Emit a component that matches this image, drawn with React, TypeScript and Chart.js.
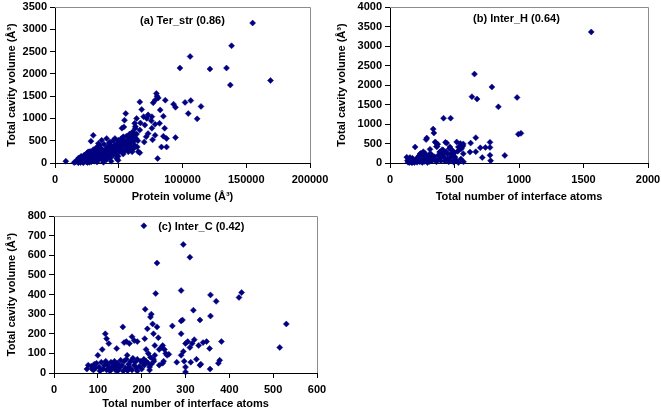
import React, { useEffect, useRef } from "react";
import { Chart, registerables } from "chart.js";

Chart.register(...registerables);

// ---------- Data ----------
const terStrPoints: [number, number][] = [
  [155000, 3140], [138500, 2630], [106000, 2390], [98000, 2130], [121500, 2110], [134500, 2130],
  [169000, 1850], [137500, 1750], [79500, 1560], [81000, 1460], [78500, 1410], [86500, 1410],
  [93000, 1320], [94500, 1250], [102000, 1360], [106500, 1400], [114500, 1270], [104500, 1110],
  [111500, 990], [94500, 570], [80500, 100], [66500, 1370], [68000, 1200], [55500, 1110],
  [54500, 960], [54000, 810], [64000, 1000], [69500, 1040], [73000, 1080], [76000, 1040],
  [82500, 1190], [85000, 1050], [82000, 890], [86000, 780], [78500, 870], [76000, 780],
  [70500, 850], [73000, 660], [66500, 740], [62500, 890], [61000, 680], [59500, 590],
  [57500, 510], [78500, 620], [76500, 520], [71500, 590], [70000, 470], [83500, 360],
  [87500, 360], [87500, 550], [85000, 600], [66500, 230], [64500, 360], [49500, 60],
  [61500, 320], [57500, 250], [30000, 620], [8500, 40], [15000, 10], [80000, 1500],
  [77000, 1350], [75500, 950], [72000, 1000], [67000, 900], [63000, 820], [52500, 780],
  [16000, 20], [17000, 60], [18000, 30], [18500, 110], [19000, 80], [20000, 10], [20500, 150],
  [21000, 50], [21500, 120], [22000, 20], [22500, 90], [23000, 180], [23500, 40], [24000, 140],
  [24500, 60], [25000, 220], [25500, 10], [26000, 110], [26500, 170], [27000, 60], [27500, 260],
  [28000, 130], [28500, 30], [29000, 200], [29500, 90], [30000, 300], [30500, 160], [31000, 40],
  [31500, 240], [32000, 120], [32500, 350], [33000, 200], [33500, 70], [34000, 280], [34500, 150],
  [35000, 400], [35500, 230], [36000, 100], [36500, 320], [37000, 180], [37500, 60], [38000, 260],
  [38500, 420], [39000, 140], [39500, 300], [40000, 220], [40500, 80], [41000, 360], [41500, 260],
  [42000, 170], [42500, 450], [43000, 300], [43500, 120], [44000, 380], [44500, 230], [45000, 320],
  [45500, 500], [46000, 180], [46500, 400], [47000, 280], [47500, 350], [48000, 200], [48500, 440],
  [49000, 320], [49500, 150], [50000, 400], [50500, 260], [51000, 480], [51500, 350], [52000, 550],
  [52500, 300], [53000, 420], [53500, 200], [54000, 380], [54500, 500], [55000, 280], [55500, 460],
  [56000, 600], [56500, 350], [57000, 420], [57500, 520], [58000, 300], [58500, 650], [59000, 450],
  [59500, 380], [60000, 560], [60500, 250], [61000, 700], [61500, 480], [62000, 600], [62500, 400],
  [63000, 780], [63500, 550], [64000, 650], [65000, 500], [28200, 490], [34000, 440], [36600, 510],
  [40500, 550], [43100, 470], [47000, 550], [49600, 510], [53600, 590], [26100, 250], [23500, 175],
  [41800, 175], [36600, 135], [31400, 75], [24800, 22], [22200, 5], [18300, 5], [19600, 100],
  [52300, 250], [48400, 100], [65300, 250], [33000, 20], [38000, 15], [44000, 40], [27000, 15],
];

const interHPoints: [number, number][] = [
  [1560, 3360], [655, 2280], [790, 1950], [635, 1700], [675, 1640], [985, 1680], [840, 1440],
  [415, 1150], [470, 1150], [995, 740], [1015, 760], [335, 870], [340, 770], [285, 640],
  [280, 600], [195, 410], [665, 650], [890, 195], [775, 530], [775, 400], [775, 200], [780, 60],
  [715, 140], [740, 400], [700, 390], [665, 290], [625, 510], [620, 280], [568, 490], [517, 540],
  [530, 410], [555, 370], [568, 240], [465, 410], [440, 510], [413, 330], [390, 290], [390, 160],
  [350, 540], [360, 420], [310, 240], [258, 290], [232, 230], [284, 160],
  [130, 150], [135, 60], [140, 20], [145, 100], [150, 10], [155, 140], [160, 40], [165, 80],
  [170, 5], [175, 120], [180, 30], [185, 60], [190, 10], [200, 50], [205, 90], [210, 20],
  [215, 150], [220, 70], [225, 180], [230, 30], [235, 110], [240, 250], [245, 60], [250, 15],
  [255, 200], [260, 90], [265, 40], [270, 250], [275, 130], [290, 10], [295, 180], [300, 80],
  [305, 40], [310, 350], [315, 120], [320, 220], [325, 60], [330, 130], [345, 160], [350, 90],
  [355, 520], [360, 30], [365, 420], [370, 480], [375, 200], [380, 100], [385, 280], [395, 60],
  [400, 170], [405, 340], [410, 240], [420, 150], [425, 50], [430, 530], [435, 290], [445, 230],
  [450, 100], [455, 30], [460, 370], [465, 130], [475, 250], [480, 190], [485, 320], [490, 60],
  [495, 20], [500, 260], [505, 150], [510, 80], [525, 300], [530, 10], [540, 350], [545, 500],
  [550, 100], [560, 420], [565, 440], [570, 30],
];

const interCPoints: [number, number][] = [
  [205, 750], [295, 655], [310, 590], [235, 560], [290, 420], [232, 405], [428, 410], [422, 385],
  [357, 398], [370, 365], [530, 250], [515, 130],
  [208, 325], [222, 300], [220, 285], [225, 250], [235, 235], [270, 240], [290, 265], [293, 270],
  [318, 320], [333, 270], [357, 290], [227, 200], [213, 225], [238, 180], [207, 175], [290, 200],
  [248, 140], [240, 120], [255, 100], [262, 95], [258, 90], [157, 235], [117, 200], [120, 175],
  [125, 150], [143, 125], [160, 155], [165, 160], [172, 150], [178, 185], [183, 165], [190, 160],
  [210, 120], [215, 100], [220, 80], [227, 70], [230, 140], [245, 130], [252, 120], [280, 55],
  [290, 90], [295, 110], [300, 150], [305, 160], [312, 55], [315, 150], [320, 170], [330, 140],
  [340, 155], [348, 160], [355, 125], [356, 20], [382, 160], [375, 50], [378, 65], [325, 70],
  [333, 40], [335, 45], [300, 30], [300, 5], [310, 130], [297, 60], [250, 60], [248, 50],
  [240, 40], [230, 90], [218, 30], [215, 50], [210, 60], [205, 70],
  [75, 20], [78, 40], [85, 35], [90, 15], [95, 25], [100, 90], [103, 30], [105, 10], [108, 55],
  [110, 120], [112, 20], [115, 40], [118, 60], [120, 15], [122, 45], [125, 30], [128, 10],
  [130, 55], [133, 25], [135, 40], [138, 60], [140, 15], [142, 35], [145, 50], [148, 20],
  [150, 30], [152, 65], [155, 40], [158, 10], [160, 60], [163, 25], [165, 70], [167, 90],
  [170, 45], [172, 30], [175, 60], [178, 15], [180, 75], [183, 40], [185, 55], [188, 25],
  [190, 70], [195, 35], [198, 60], [200, 20], [203, 50], [206, 40], [218, 15], [222, 45],
  [228, 60], [190, 10], [92, 45], [97, 50], [87, 20], [145, 10], [168, 12],
];

const yTitle = "Total cavity volume (Å³)";
const xTitleA = "Protein volume (Å³)";
const xTitleB = "Total number of interface atoms";
const xTitleC = "Total number of interface atoms";
const labelA = "(a) Ter_str (0.86)";
const labelB = "(b) Inter_H (0.64)";
const labelC = "(c) Inter_C (0.42)";

// ---------- Styling ----------
const FONT = '"Liberation Sans", Arial, Helvetica, sans-serif';
const MARK = "#000080";

const framePlugin = {
  id: "frameLabel",
  beforeDatasetsDraw(chart: any) {
    const { left, top, right, bottom } = chart.chartArea;
    const ctx = chart.ctx;
    ctx.save();
    ctx.strokeStyle = "#8c8c8c";
    ctx.lineWidth = 1;
    ctx.beginPath();
    ctx.moveTo(left, top + 0.5);
    ctx.lineTo(right + 0.5, top + 0.5);
    ctx.lineTo(right + 0.5, bottom);
    ctx.stroke();
    ctx.restore();
  },
  afterDatasetsDraw(chart: any, _args: any, opts: any) {
    if (!opts || !opts.text) return;
    const { left, top, right } = chart.chartArea;
    const ctx = chart.ctx;
    ctx.save();
    ctx.font = `bold 11px ${FONT}`;
    ctx.fillStyle = "#000";
    ctx.textAlign = "center";
    ctx.textBaseline = "middle";
    ctx.fillText(opts.text, left + (right - left) * opts.fx, top + opts.dy);
    ctx.restore();
  },
};

type PanelProps = {
  points: [number, number][];
  xMax: number;
  xStep: number;
  yMax: number;
  yStep: number;
  xTitle: string;
  label: string;
  labelFx: number;
  labelDy: number;
  width: number;
  height: number;
  padTop: number;
  padRight: number;
  yWidth: number;
  xHeight: number;
};

function Panel(p: PanelProps) {
  const ref = useRef<HTMLCanvasElement | null>(null);
  useEffect(() => {
    if (!ref.current) return;
    const axisCommon = {
      type: "linear" as const,
      grid: {
        display: true,
        drawOnChartArea: false,
        drawTicks: true,
        tickLength: 5,
        color: "#000",
      },
      border: { display: true, color: "#000", width: 1 },
    };
    const tickFont = { family: FONT, size: 11, weight: "bold" };
    const chart = new Chart(ref.current, {
      type: "scatter",
      data: {
        datasets: [
          {
            data: p.points.map(([x, y]) => ({ x, y })),
            pointStyle: "rectRot",
            pointRadius: 3,
            pointHoverRadius: 3,
            backgroundColor: MARK,
            borderColor: MARK,
            borderWidth: 0.5,
            clip: false as any,
          },
        ],
      },
      options: {
        animation: false,
        responsive: false,
        events: [],
        layout: { padding: { top: p.padTop, right: p.padRight, left: 0, bottom: 0 } },
        plugins: {
          legend: { display: false },
          tooltip: { enabled: false },
          frameLabel: { text: p.label, fx: p.labelFx, dy: p.labelDy },
        } as any,
        scales: {
          x: {
            ...axisCommon,
            min: 0,
            max: p.xMax,
            ticks: {
              stepSize: p.xStep,
              color: "#000",
              padding: 5,
              maxRotation: 0,
              autoSkip: false,
              font: tickFont,
              callback: (v: any) => String(v),
            },
            title: {
              display: true,
              text: p.xTitle,
              color: "#000",
              padding: { top: 0, bottom: 2 },
              font: tickFont,
            },
            afterFit(scale: any) {
              scale.height = p.xHeight;
              scale.paddingLeft = 0;
              scale.paddingRight = 0;
            },
          },
          y: {
            ...axisCommon,
            min: 0,
            max: p.yMax,
            ticks: {
              stepSize: p.yStep,
              color: "#000",
              padding: 3,
              autoSkip: false,
              font: tickFont,
              callback: (v: any) => String(v),
            },
            title: {
              display: true,
              text: yTitle,
              color: "#000",
              padding: { top: 5, bottom: 0 },
              font: tickFont,
            },
            afterFit(scale: any) {
              scale.width = p.yWidth;
              scale.paddingTop = 0;
              scale.paddingBottom = 0;
            },
          },
        },
      } as any,
      plugins: [framePlugin],
    });
    return () => chart.destroy();
  }, []);
  return (
    <canvas
      ref={ref}
      width={p.width}
      height={p.height}
      style={{ display: "block", width: p.width, height: p.height }}
    />
  );
}

export default function App() {
  return (
    <div
      style={{
        position: "absolute",
        left: 0,
        top: 0,
        width: 661,
        height: 413,
        background: "#fff",
        overflow: "hidden",
      }}
    >
      <div style={{ position: "absolute", left: 0, top: 0 }}>
        <Panel
          points={terStrPoints}
          xMax={200000}
          xStep={50000}
          yMax={3500}
          yStep={500}
          xTitle={xTitleA}
          label={labelA}
          labelFx={0.5}
          labelDy={14}
          width={330}
          height={206}
          padTop={7}
          padRight={20}
          yWidth={55}
          xHeight={43}
        />
      </div>
      <div style={{ position: "absolute", left: 330, top: 0 }}>
        <Panel
          points={interHPoints}
          xMax={2000}
          xStep={500}
          yMax={4000}
          yStep={500}
          xTitle={xTitleB}
          label={labelB}
          labelFx={0.49}
          labelDy={12}
          width={331}
          height={206}
          padTop={7}
          padRight={13}
          yWidth={60}
          xHeight={43}
        />
      </div>
      <div style={{ position: "absolute", left: 0, top: 206 }}>
        <Panel
          points={interCPoints}
          xMax={600}
          xStep={100}
          yMax={800}
          yStep={100}
          xTitle={xTitleC}
          label={labelC}
          labelFx={0.56}
          labelDy={11}
          width={330}
          height={207}
          padTop={10}
          padRight={13}
          yWidth={54}
          xHeight={40}
        />
      </div>
    </div>
  );
}
